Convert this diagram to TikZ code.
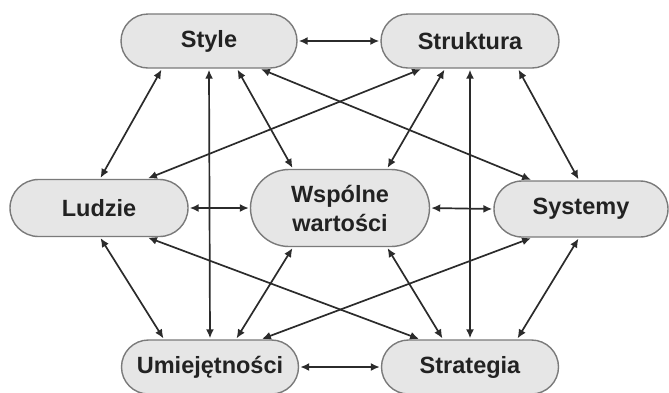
\documentclass[tikz,border=0pt]{standalone}
\usepackage{fontspec}
\setmainfont{Liberation Sans}
\usetikzlibrary{shapes.misc,arrows.meta}
\definecolor{boxfill}{HTML}{E6E6E6}
\definecolor{boxline}{HTML}{7A7A7A}
\definecolor{arr}{HTML}{2B2B2B}
\definecolor{txt}{HTML}{222222}
\tikzset{
  pill/.style={rounded rectangle, draw=boxline, line width=1.4pt, fill=boxfill,
    inner sep=0pt, font=\bfseries\fontsize{23.5}{27}\selectfont, text=txt, align=center},
  link/.style={draw=arr, line width=1.7pt, {Latex[length=9pt,width=8pt]}-{Latex[length=9pt,width=8pt]}}
}
\begin{document}
\begin{tikzpicture}[x=1pt,y=-1pt]
\useasboundingbox (0,0) rectangle (669,392);
\node[pill, minimum width=176pt, minimum height=54pt] (style) at (209,41) {Style};
\node[pill, minimum width=178pt, minimum height=54pt] (struk) at (470,41) {Struktura};
\node[pill, minimum width=178pt, minimum height=57pt] (ludzie) at (99,208) {Ludzie};
\node[pill, minimum width=179pt, minimum height=77pt] (wsp) at (340,208) {Wspólne\\[2pt]wartości};
\node[pill, minimum width=174pt, minimum height=56pt] (sys) at (581,209) {Systemy};
\node[pill, minimum width=177pt, minimum height=54pt] (umie) at (210,367) {Umiejętności};
\node[pill, minimum width=177pt, minimum height=54pt] (strat) at (470,367) {Strategia};
\begin{scope}[shorten >=1pt, shorten <=1pt]
% horizontal
\draw[link] (style.east) -- (struk.west);
\draw[link] (ludzie.east) -- (wsp.west);
\draw[link] (wsp.east) -- (sys.west);
\draw[link] (umie.east) -- (strat.west);
% verticals
\draw[link] (style.south) -- (umie.north);
\draw[link] (struk.south) -- (strat.north);
% from Style
\draw[link] ([xshift=-47pt]style.south) -- ([xshift=1pt]ludzie.north);
\draw[link] ([xshift=28pt]style.south) -- ([xshift=-47pt]wsp.north);
\draw[link] ([xshift=51pt]style.south) -- ([xshift=-49pt]sys.north);
% from Struktura
\draw[link] ([xshift=-48pt]struk.south) -- ([xshift=48pt]ludzie.north);
\draw[link] ([xshift=-25pt]struk.south) -- ([xshift=47pt]wsp.north);
\draw[link] ([xshift=48pt]struk.south) -- ([xshift=-2pt]sys.north);
% from Umiejetnosci
\draw[link] ([xshift=-46pt]umie.north) -- ([xshift=1pt]ludzie.south);
\draw[link] ([xshift=26pt]umie.north) -- ([xshift=-47pt]wsp.south);
\draw[link] ([xshift=51pt]umie.north) -- ([xshift=-49pt]sys.south);
% from Strategia
\draw[link] ([xshift=-50pt]strat.north) -- ([xshift=48pt]ludzie.south);
\draw[link] ([xshift=-27pt]strat.north) -- ([xshift=47pt]wsp.south);
\draw[link] ([xshift=47pt]strat.north) -- ([xshift=-2pt]sys.south);
\end{scope}
\end{tikzpicture}
\end{document}
